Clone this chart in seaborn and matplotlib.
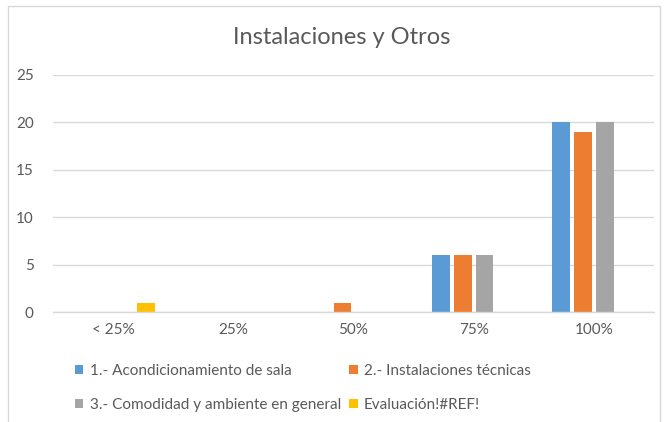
import matplotlib
matplotlib.use("Agg")
import matplotlib.pyplot as plt
import seaborn as sns
import pandas as pd
from matplotlib.patches import Rectangle, Patch

categories = ["< 25%", "25%", "50%", "75%", "100%"]
series_names = ["1.- Acondicionamiento de sala", "2.- Instalaciones técnicas",
                "3.- Comodidad y ambiente en general", "Evaluación!#REF!"]
s1 = [0, 0, 0, 6, 20]
s2 = [0, 0, 1, 6, 19]
s3 = [0, 0, 0, 6, 20]
s4 = [1, 0, 0, 0, 0]
colors = ["#5B9BD5", "#ED7D31", "#A5A5A5", "#FFC000"]

rows = []
for name, vals in zip(series_names, [s1, s2, s3, s4]):
    for c, v in zip(categories, vals):
        rows.append({"cat": c, "serie": name, "val": v})
df = pd.DataFrame(rows)

sns.set_theme(style="white")
plt.rcParams['font.family'] = ['Lato', 'DejaVu Sans']
txt = "#595959"
grid = "#D9D9D9"

fig = plt.figure(figsize=(6.66, 4.22), dpi=100)
ax = fig.add_axes([53/666, 1-312/422, 601/666, 237/422])

sns.barplot(data=df, x="cat", y="val", hue="serie", order=categories,
            hue_order=series_names, palette=colors, width=0.727, gap=0.2,
            linewidth=0, saturation=1, ax=ax, legend=False)

ax.set_ylim(0, 25)
ax.set_xlim(-0.5, 4.5)
ax.set_yticks([0, 5, 10, 15, 20, 25])
ax.yaxis.grid(True, color=grid, linewidth=1)
ax.set_axisbelow(True)
for s in ["top", "right", "left"]:
    ax.spines[s].set_visible(False)
ax.spines["bottom"].set_color(grid)
ax.spines["bottom"].set_linewidth(1)
ax.tick_params(axis="both", length=0, colors=txt, labelsize=11)
ax.tick_params(axis="y", pad=14)
ax.tick_params(axis="x", pad=8)
ax.set_xlabel("")
ax.set_ylabel("")

fig.text(342/666, 1-38/422, "Instalaciones y Otros", ha="center", va="center",
         fontsize=17, color=txt)

handles = [Patch(facecolor=c, edgecolor="none") for c in colors]
order = [0, 2, 1, 3]
leg = fig.legend([handles[i] for i in order], [series_names[i] for i in order],
                 ncol=2, loc="upper left", bbox_to_anchor=(75/666, 1-364/422),
                 frameon=False, fontsize=11, handlelength=0.55, handleheight=0.55,
                 handletextpad=0.4, columnspacing=0.55, labelspacing=1.3,
                 borderaxespad=0, borderpad=0)
for t in leg.get_texts():
    t.set_color(txt)

fig.patches.append(Rectangle((8/666, -0.05), 652/666, 1.05 - 6/422, transform=fig.transFigure,
                             fill=False, edgecolor="#D9D9D9", linewidth=1))

fig.savefig("out.png", dpi=100)
